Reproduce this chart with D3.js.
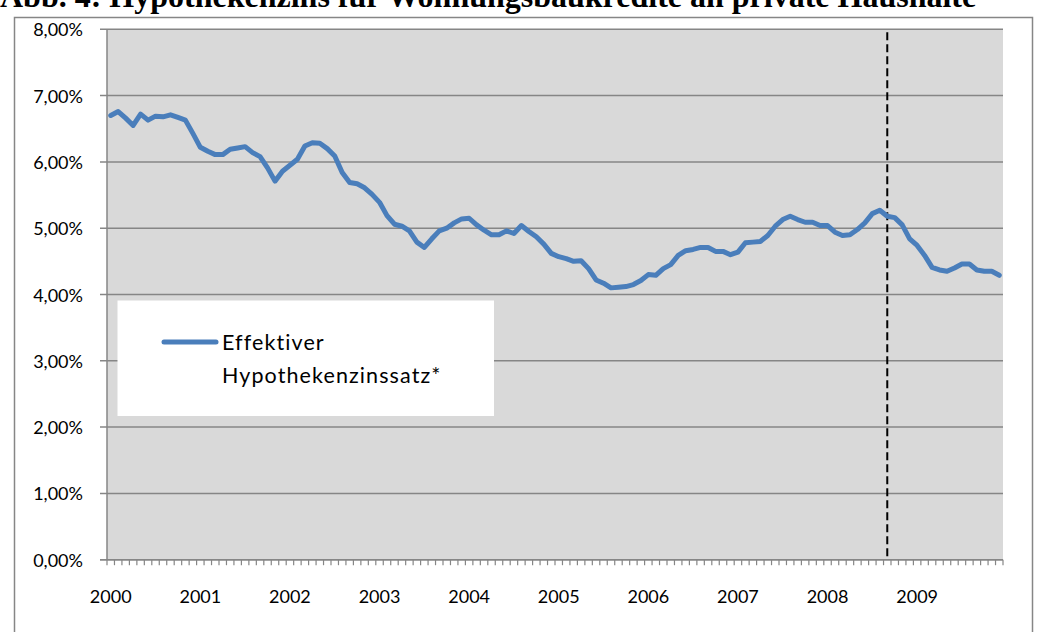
<!DOCTYPE html>
<html>
<head>
<meta charset="utf-8">
<script src="https://cdn.jsdelivr.net/npm/d3@7"></script>
<style>
  html, body { margin: 0; padding: 0; background: #fff; }
  svg { display: block; }
  text { font-family: Lato, "Open Sans", sans-serif; fill: #000; }
</style>
</head>
<body>
<div id="chart"></div>
<script>
var WIDTH = 1037;
var HEIGHT = 632;

var TITLE = "Abb. 4: Hypothekenzins für Wohnungsbaukredite an private Haushalte";
var SERIES_NAME = ["Effektiver", "Hypothekenzinssatz*"];
var YEARS = [2000, 2001, 2002, 2003, 2004, 2005, 2006, 2007, 2008, 2009];
var Y_TICKS = [0, 1, 2, 3, 4, 5, 6, 7, 8];
// month index (Sep 2008) marked by the dashed line
var MARKER_MONTH = 104;

// effective mortgage rate in %, monthly Jan 2000 .. Dec 2009
var RATES = [
  6.70, 6.76, 6.66, 6.55, 6.72, 6.63, 6.69, 6.68, 6.71, 6.67, 6.63, 6.43,
  6.22, 6.16, 6.11, 6.11, 6.19, 6.21, 6.23, 6.14, 6.08, 5.91, 5.71, 5.86,
  5.95, 6.04, 6.24, 6.29, 6.28, 6.20, 6.09, 5.84, 5.69, 5.67, 5.61, 5.51,
  5.39, 5.19, 5.06, 5.03, 4.96, 4.79, 4.71, 4.84, 4.96, 5.00, 5.08, 5.14,
  5.15, 5.05, 4.97, 4.90, 4.90, 4.96, 4.92, 5.04, 4.95, 4.87, 4.76, 4.62,
  4.57, 4.54, 4.50, 4.51, 4.39, 4.22, 4.17, 4.10, 4.11, 4.12, 4.15, 4.21,
  4.30, 4.29, 4.39, 4.45, 4.59, 4.66, 4.68, 4.71, 4.71, 4.65, 4.65, 4.60,
  4.64, 4.78, 4.79, 4.80, 4.89, 5.03, 5.13, 5.18, 5.13, 5.09, 5.09, 5.04,
  5.04, 4.94, 4.89, 4.90, 4.98, 5.08, 5.22, 5.27, 5.18, 5.16, 5.05, 4.84,
  4.74, 4.59, 4.41, 4.37, 4.35, 4.40, 4.46, 4.46, 4.37, 4.35, 4.35, 4.29
];

var PLOT = { left: 107, right: 1003, top: 29.3, bottom: 559.7 };
var LINE_COLOR = "#4a7ebb";
var GRID_COLOR = "#868686";

function drawChart() {
  var svg = d3.select("#chart").append("svg")
    .attr("width", WIDTH)
    .attr("height", HEIGHT);

  var months = d3.range(RATES.length);
  var x = d3.scaleBand()
    .domain(months)
    .range([PLOT.left, PLOT.right])
    .paddingInner(0)
    .paddingOuter(0);
  var y = d3.scaleLinear()
    .domain([0, 8])
    .range([PLOT.bottom, PLOT.top]);
  var half = x.bandwidth() / 2;

  // title, cut off at the top edge like the original screenshot
  svg.append("text")
    .attr("x", 0)
    .attr("y", 7)
    .style("font-family", "'Liberation Serif', 'Times New Roman', serif")
    .style("font-weight", "bold")
    .style("font-size", "32px")
    .text(TITLE);

  // outer chart frame
  svg.append("rect")
    .attr("x", 14.5)
    .attr("y", 17.5)
    .attr("width", 1018)
    .attr("height", 640)
    .style("fill", "#fff")
    .style("stroke", GRID_COLOR)
    .style("stroke-width", 1.5);

  // plot background
  svg.append("rect")
    .attr("x", PLOT.left)
    .attr("y", PLOT.top)
    .attr("width", PLOT.right - PLOT.left)
    .attr("height", PLOT.bottom - PLOT.top)
    .style("fill", "#d9d9d9");

  // horizontal gridlines
  svg.append("g").selectAll("line")
    .data(Y_TICKS)
    .enter()
    .append("line")
    .attr("x1", PLOT.left - 7)
    .attr("x2", PLOT.right)
    .attr("y1", function(d) { return y(d); })
    .attr("y2", function(d) { return y(d); })
    .style("stroke", GRID_COLOR)
    .style("stroke-width", 1.5);

  // y axis line
  svg.append("line")
    .attr("x1", PLOT.left)
    .attr("x2", PLOT.left)
    .attr("y1", PLOT.top)
    .attr("y2", PLOT.bottom)
    .style("stroke", GRID_COLOR)
    .style("stroke-width", 1.5);

  svg.append("g").selectAll("text")
    .data(Y_TICKS)
    .enter()
    .append("text")
    .attr("x", 83)
    .attr("y", function(d) { return y(d); })
    .attr("text-anchor", "end")
    .attr("dominant-baseline", "central")
    .style("font-size", "18px")
    .text(function(d) { return d3.format(".2f")(d).replace(".", ",") + "%"; });

  // x axis: monthly tick marks on band edges
  var edges = months.map(function(m) { return x(m); }).concat([PLOT.right]);
  svg.append("g").selectAll("line")
    .data(edges)
    .enter()
    .append("line")
    .attr("x1", function(d) { return d; })
    .attr("x2", function(d) { return d; })
    .attr("y1", PLOT.bottom)
    .attr("y2", PLOT.bottom + 5.5)
    .style("stroke", GRID_COLOR)
    .style("stroke-width", 1.2);

  svg.append("line")
    .attr("x1", PLOT.left - 7)
    .attr("x2", PLOT.right)
    .attr("y1", PLOT.bottom)
    .attr("y2", PLOT.bottom)
    .style("stroke", GRID_COLOR)
    .style("stroke-width", 1.5);

  svg.append("g").selectAll("text")
    .data(YEARS)
    .enter()
    .append("text")
    .attr("x", function(d, i) { return x(i * 12) + half; })
    .attr("y", 596)
    .attr("text-anchor", "middle")
    .attr("dominant-baseline", "central")
    .style("font-size", "18px")
    .text(function(d) { return d; });

  // dashed marker line
  svg.append("line")
    .attr("x1", x(MARKER_MONTH) + half)
    .attr("x2", x(MARKER_MONTH) + half)
    .attr("y1", PLOT.top + 3)
    .attr("y2", PLOT.bottom)
    .style("stroke", "#000")
    .style("stroke-width", 2)
    .style("stroke-dasharray", "8,4");

  // the series
  var line = d3.line()
    .x(function(d, i) { return x(i) + half; })
    .y(function(d) { return y(d); });
  svg.append("path")
    .datum(RATES)
    .attr("d", line)
    .style("fill", "none")
    .style("stroke", LINE_COLOR)
    .style("stroke-width", 5)
    .style("stroke-linejoin", "round")
    .style("stroke-linecap", "round");

  // legend
  var legend = svg.append("g");
  legend.append("rect")
    .attr("x", 117.5)
    .attr("y", 300.5)
    .attr("width", 376.5)
    .attr("height", 115.5)
    .style("fill", "#fff");
  legend.append("line")
    .attr("x1", 164)
    .attr("x2", 216)
    .attr("y1", 342)
    .attr("y2", 342)
    .style("stroke", LINE_COLOR)
    .style("stroke-width", 5)
    .style("stroke-linecap", "round");
  legend.selectAll("text.name")
    .data(SERIES_NAME)
    .enter()
    .append("text")
    .attr("class", "name")
    .attr("x", 222)
    .attr("y", function(d, i) { return 350 + i * 33; })
    .style("font-size", "21.5px")
    .style("letter-spacing", "1.1px")
    .text(function(d) { return d; });
}

drawChart();
</script>
</body>
</html>
